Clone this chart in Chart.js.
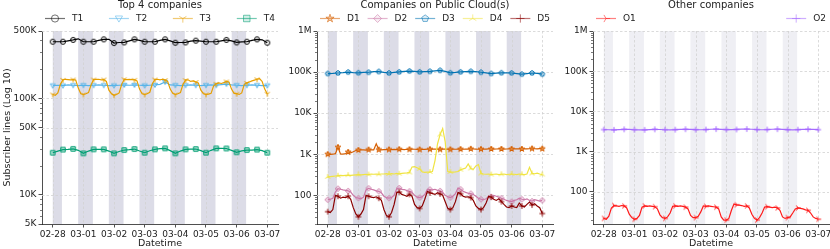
<!DOCTYPE html>
<html>
<head>
<meta charset="utf-8">
<title>Subscriber lines</title>
<script src="https://cdn.jsdelivr.net/npm/chart.js@4.4.1/dist/chart.umd.min.js"></script>
<style>
  html, body { margin: 0; padding: 0; background: #fff; overflow: hidden; }
  body { position: relative; width: 830px; height: 249px; }
  .panel { position: absolute; top: 0; }
</style>
</head>
<body>
<canvas id="top4" class="panel" style="left:0px" width="290" height="249"></canvas>
<canvas id="cloud" class="panel" style="left:280px" width="290" height="249"></canvas>
<canvas id="other" class="panel" style="left:555px" width="290" height="249"></canvas>
<script>
const FONT = '"DejaVu Sans", sans-serif';

// time axis, hours since 02-28 00:00
const hours2 = [0,2,4,6,8,10,12,14,16,18,20,22,24,26,28,30,32,34,36,38,40,42,44,46,48,50,52,54,56,58,60,62,64,66,68,70,72,74,76,78,80,82,84,86,88,90,92,94,96,98,100,102,104,106,108,110,112,114,116,118,120,122,124,126,128,130,132,134,136,138,140,142,144,146,148,150,152,154,156,158,160,162,164,166,168];
const hours4 = [0,4,8,12,16,20,24,28,32,36,40,44,48,52,56,60,64,68,72,76,80,84,88,92,96,100,104,108,112,116,120,124,128,132,136,140,144,148,152,156,160,164,168];

const dayTicks = [0, 1, 2, 3, 4, 5, 6, 7];
const dayLabels = ['02-28', '03-01', '03-02', '03-03', '03-04', '03-05', '03-06', '03-07'];

// night shading, in days
const nightStart = [0, 0.83, 1.83, 2.83, 3.84, 4.84, 5.84];
const nightEnd = [0.3, 1.31, 2.31, 3.31, 4.31, 5.31, 6.31];

const top4Ticks = [5000, 10000, 50000, 100000, 500000];
const top4TickLabels = ['5K', '10K', '50K', '100K', '500K'];
const wideTicks = [100, 1000, 10000, 100000, 1000000];
const wideTickLabels = ['100', '1K', '10K', '100K', '1M'];

// Top 4 companies
const t1 = [387000,387000,387000,395000,404000,415000,387000,387000,387000,400000,410000,410000,375000,380000,381000,395000,410000,400000,387000,387000,387000,400000,410000,395000,378000,380000,381000,392000,397000,392000,387000,387000,387000,395000,404000,395000,381000,385000,387000,400000,410000,405000,378000];
const t2 = [136000,137000,136000,138000,137000,136000,137000,136000,137000,138000,137000,136000,136000,137000,138000,137000,138000,137000,136000,137000,138000,140000,148000,138000,137000,136000,137000,138000,137000,136000,137000,138000,137000,139000,141000,138000,137000,136000,137000,138000,137000,136000,136000];
const t3 = [110000,108000,114000,140000,156000,158000,157000,156000,157000,155000,128000,112000,
  110000,112000,115000,138000,157000,158000,158000,156000,157000,150000,122000,112000,
  108000,110000,114000,140000,158000,157000,158000,157000,156000,152000,125000,112000,
  110000,112000,116000,142000,157000,158000,156000,158000,155000,150000,125000,113000,
  110000,112000,115000,140000,155000,156000,150000,152000,148000,145000,122000,112000,
  110000,111000,113000,135000,142000,145000,143000,146000,150000,148000,125000,113000,
  112000,110000,114000,140000,145000,148000,152000,155000,158000,160000,150000,125000,112000];
const t4 = [27400,28500,29500,29700,30000,29000,27000,28500,29700,29700,29700,28500,27000,28200,29200,29500,29900,28500,27400,28700,29700,30200,30400,28800,27000,28500,29700,29800,29900,28800,27400,29000,30400,30400,30300,29000,27700,28600,29200,29200,29500,28800,27400];

// Companies on Public Cloud(s)
const d1 = [1000,990,1000,1030,1480,1020,1010,1040,1130,1080,1150,1230,
  1260,1270,1280,1260,1290,1280,1270,1800,1290,1280,1300,1290,
  1300,1290,1310,1300,1320,1310,1300,1320,1310,1330,1320,1310,
  1300,1320,1310,1330,1320,1340,1330,1320,1310,1330,1340,1320,
  1310,1330,1320,1340,1330,1320,1340,1330,1350,1340,1330,1320,
  1330,1340,1330,1350,1340,1330,1340,1350,1340,1330,1340,1350,
  1340,1350,1360,1350,1340,1360,1350,1360,1370,1360,1350,1370,1360];
const d2 = [78,80,85,120,145,140,135,132,128,120,100,88,
  85,82,90,135,148,140,135,128,125,115,95,88,
  85,88,100,145,150,140,138,130,125,118,100,90,
  88,92,105,140,138,135,140,132,128,118,100,92,
  88,95,110,150,140,125,118,112,110,105,95,85,
  80,78,82,95,92,100,95,90,85,80,75,72,
  70,75,78,85,80,78,82,75,72,78,75,72,75];
const d3 = [92000,93000,95000,97000,100000,97000,96000,98000,99000,102000,103000,98000,95000,98000,101000,104000,106000,104000,101000,103000,104000,107000,110000,104000,96000,98000,101000,103000,104000,102000,99000,96000,92000,94000,96000,96000,95000,92000,89000,92000,95000,93000,89000];
const d4 = [280,285,290,295,300,305,300,305,310,305,310,315,
  320,315,320,325,320,330,325,330,325,330,330,335,
  330,335,330,340,335,340,345,350,360,490,500,470,
  440,370,360,365,370,380,700,1800,3000,4200,2000,380,
  370,365,370,380,420,440,460,580,450,430,520,560,
  340,330,325,330,320,325,330,320,325,330,320,325,
  330,325,320,330,325,320,330,480,340,335,345,330,320];
const d5 = [40,38,45,100,95,85,90,88,95,80,50,35,
  30,35,45,100,95,90,88,92,85,75,45,32,
  30,38,60,115,120,105,100,95,105,95,60,50,
  48,55,80,125,115,110,105,115,108,100,70,48,
  45,50,70,118,110,95,90,92,88,75,55,48,
  45,50,65,95,90,80,75,82,70,60,52,50,
  55,52,50,65,55,52,60,68,58,62,55,50,36];

// Other companies
const o1 = [22,21,25,40,46,45,44,46,45,40,28,23,
  21,22,26,42,45,44,45,44,43,38,27,23,
  22,24,30,44,45,44,45,44,42,38,26,23,
  23,25,32,45,44,45,44,43,42,38,24,20,
  20,22,35,50,48,47,46,44,45,40,28,22,
  20,23,30,42,43,42,41,42,40,35,24,22,
  23,24,30,38,40,39,38,36,35,30,24,22,21];
const o2 = [3550,3520,3500,3560,3600,3580,3520,3480,3500,3560,3600,3570,3520,3500,3540,3600,3620,3580,3540,3520,3560,3620,3650,3600,3560,3540,3580,3640,3660,3620,3560,3520,3560,3620,3640,3600,3540,3500,3540,3600,3620,3580,3540];

function drawMarker(ctx, shape, x, y, r, color, face) {
  const spokes = { triDown: [90, 210, 330], triUp: [270, 30, 150], triRight: [0, 120, 240], plus: [0, 90, 180, 270] };
  ctx.save();
  ctx.strokeStyle = color;
  ctx.lineWidth = 1;
  ctx.beginPath();
  if (spokes[shape]) {
    spokes[shape].forEach(deg => {
      const t = deg * Math.PI / 180;
      ctx.moveTo(x, y);
      ctx.lineTo(x + r * 1.15 * Math.cos(t), y + r * 1.15 * Math.sin(t));
    });
    ctx.stroke();
    ctx.restore();
    return;
  }
  if (shape === 'circle') {
    ctx.arc(x, y, r, 0, Math.PI * 2);
  } else if (shape === 'square') {
    ctx.rect(x - r * 0.9, y - r * 0.9, r * 1.8, r * 1.8);
  } else if (shape === 'diamond') {
    ctx.moveTo(x, y - r * 1.1); ctx.lineTo(x + r * 1.1, y); ctx.lineTo(x, y + r * 1.1); ctx.lineTo(x - r * 1.1, y);
  } else if (shape === 'triangleDown') {
    ctx.moveTo(x - r, y - r * 0.7); ctx.lineTo(x + r, y - r * 0.7); ctx.lineTo(x, y + r);
  } else if (shape === 'pentagon') {
    for (let k = 0; k < 5; k++) {
      const t = -Math.PI / 2 + k * 2 * Math.PI / 5;
      ctx.lineTo(x + r * Math.cos(t), y + r * Math.sin(t));
    }
  } else if (shape === 'star') {
    for (let k = 0; k < 10; k++) {
      const t = -Math.PI / 2 + k * Math.PI / 5;
      const rr = k % 2 ? r * 0.45 : r * 1.2;
      ctx.lineTo(x + rr * Math.cos(t), y + rr * Math.sin(t));
    }
  }
  ctx.closePath();
  if (face) {
    ctx.fillStyle = face;
    ctx.fill();
  }
  ctx.stroke();
  ctx.restore();
}

function makeMarker(shape, r, color, face) {
  const c = document.createElement('canvas');
  const s = Math.ceil(r * 2.6 + 3);
  c.width = s;
  c.height = s;
  drawMarker(c.getContext('2d'), shape, s / 2, s / 2, r, color, face);
  return c;
}

// night bands and dashed grid
const backdrop = {
  id: 'backdrop',
  beforeDatasetsDraw(chart, args, opts) {
    const { ctx, chartArea: a, scales: { x, y } } = chart;
    ctx.save();
    ctx.beginPath();
    ctx.rect(a.left, a.top, a.width, a.height);
    ctx.clip();
    ctx.fillStyle = opts.bandColor;
    nightStart.forEach((s, i) => {
      const x0 = x.getPixelForValue(s);
      const x1 = x.getPixelForValue(nightEnd[i]);
      ctx.fillRect(x0, a.top, x1 - x0, a.height);
    });
    ctx.strokeStyle = '#d2d2d2';
    ctx.lineWidth = 0.8;
    ctx.setLineDash([2.5, 2]);
    dayTicks.forEach(d => {
      const px = Math.round(x.getPixelForValue(d)) + 0.5;
      ctx.beginPath(); ctx.moveTo(px, a.top); ctx.lineTo(px, a.bottom); ctx.stroke();
    });
    opts.yTicks.forEach(v => {
      const py = Math.round(y.getPixelForValue(v)) + 0.5;
      ctx.beginPath(); ctx.moveTo(a.left, py); ctx.lineTo(a.right, py); ctx.stroke();
    });
    ctx.restore();
  }
};

// log minor ticks on the left spine
const minorTicks = {
  id: 'minorTicks',
  afterDraw(chart) {
    const { ctx, chartArea: a, scales: { y } } = chart;
    ctx.save();
    ctx.strokeStyle = '#222';
    ctx.lineWidth = 0.6;
    for (let k = Math.floor(Math.log10(y.min)); k <= Math.ceil(Math.log10(y.max)); k++) {
      for (let m = 2; m <= 9; m++) {
        const v = m * Math.pow(10, k);
        if (v < y.min || v > y.max || y.ticks.some(t => t.value === v)) continue;
        const py = Math.round(y.getPixelForValue(v)) + 0.5;
        ctx.beginPath(); ctx.moveTo(a.left - 2, py); ctx.lineTo(a.left, py); ctx.stroke();
      }
    }
    ctx.restore();
  }
};

// title + expanded legend row
const header = {
  id: 'header',
  afterDraw(chart, args, opts) {
    const { ctx, chartArea: a } = chart;
    ctx.save();
    ctx.fillStyle = '#222';
    ctx.textBaseline = 'middle';
    ctx.textAlign = 'center';
    ctx.font = '10px ' + FONT;
    ctx.fillText(opts.title, (a.left + a.right) / 2, 5.5);
    ctx.font = '9px ' + FONT;
    ctx.textAlign = 'left';
    const sets = chart.data.datasets;
    const handle = 20, pad = 7;
    const widths = sets.map(d => handle + pad + ctx.measureText(d.label).width);
    const left = a.left + 3, right = a.right - 3;
    const total = widths.reduce((s, w) => s + w, 0);
    const gap = sets.length > 1 ? (right - left - total) / (sets.length - 1) : 0;
    const cy = 18.5;
    let cx = left;
    sets.forEach((d, i) => {
      ctx.globalAlpha = 0.55;
      ctx.strokeStyle = d.borderColor;
      ctx.lineWidth = 1.2;
      ctx.beginPath(); ctx.moveTo(cx, cy); ctx.lineTo(cx + handle, cy); ctx.stroke();
      drawMarker(ctx, d.marker, cx + handle / 2, cy, 3.6, d.borderColor, d.face);
      ctx.globalAlpha = 1;
      ctx.fillStyle = '#222';
      ctx.fillText(d.label, cx + handle + pad, cy);
      cx += widths[i] + gap;
    });
    ctx.restore();
  }
};

function buildPanel(id, cfg) {
  const tickFont = { family: FONT, size: 9 };
  const axisBits = {
    grid: { drawOnChartArea: false, tickLength: 3.5, tickWidth: 0.8, tickColor: '#222' },
    border: { display: true, color: '#222', width: 0.8 }
  };
  return new Chart(document.getElementById(id), {
    type: 'line',
    data: {
      datasets: cfg.series.map((s, i) => ({
        label: s.label,
        data: s.hours.map((h, j) => ({ x: h / 24, y: s.values[j] })),
        borderColor: s.color,
        backgroundColor: s.color,
        borderWidth: 1.2,
        pointStyle: makeMarker(s.marker, 2.5, s.color, s.face),
        pointRadius: c => (c.dataIndex % s.every === 0 ? 2.5 : 0),
        pointHoverRadius: 0,
        tension: 0,
        fill: false,
        order: -i,
        marker: s.marker,
        face: s.face
      }))
    },
    options: {
      responsive: false,
      devicePixelRatio: 1,
      animation: false,
      events: [],
      layout: { padding: { left: 0, right: cfg.padRight, top: 31, bottom: 0 } },
      plugins: {
        legend: { display: false },
        title: { display: false },
        tooltip: { enabled: false },
        backdrop: { bandColor: cfg.bandColor, yTicks: cfg.yTicks },
        header: { title: cfg.title }
      },
      scales: {
        x: {
          type: 'linear',
          min: -0.35,
          max: 7.35,
          afterBuildTicks: s => { s.ticks = dayTicks.map(v => ({ value: v })); },
          afterFit: s => { s.height = 25; },
          ticks: {
            autoSkip: false, maxRotation: 0, padding: 2, color: '#222', font: tickFont,
            callback: v => dayLabels[dayTicks.indexOf(v)]
          },
          ...axisBits,
          title: { display: true, text: 'Datetime', color: '#222', font: { family: FONT, size: 9.5 }, padding: 0 }
        },
        y: {
          type: 'logarithmic',
          min: cfg.yMin,
          max: cfg.yMax,
          afterBuildTicks: s => { s.ticks = cfg.yTicks.map(v => ({ value: v })); },
          afterFit: s => { s.width = cfg.axisWidth; },
          ticks: {
            autoSkip: false, padding: 2, color: '#222', font: tickFont,
            callback: v => cfg.yLabels[cfg.yTicks.indexOf(v)]
          },
          ...axisBits,
          title: {
            display: !!cfg.yTitle, text: cfg.yTitle || '', color: '#222',
            font: { family: FONT, size: 9.5 }, padding: { top: 2, bottom: 0 }
          }
        }
      }
    },
    plugins: [backdrop, minorTicks, header]
  });
}

buildPanel('top4', {
  title: 'Top 4 companies',
  yTitle: 'Subscriber lines (Log 10)',
  axisWidth: 42, padRight: 12,
  yMin: 5000, yMax: 500000, yTicks: top4Ticks, yLabels: top4TickLabels,
  bandColor: '#dcdce7',
  series: [
    { label: 'T1', hours: hours4, values: t1, color: '#000000', marker: 'circle', every: 2 },
    { label: 'T2', hours: hours4, values: t2, color: '#56b4e9', marker: 'triangleDown', every: 2 },
    { label: 'T3', hours: hours2, values: t3, color: '#e69f00', marker: 'triDown', every: 4 },
    { label: 'T4', hours: hours4, values: t4, color: '#009e73', marker: 'square', every: 2, face: 'rgba(0,158,115,0.3)' }
  ]
});

buildPanel('cloud', {
  title: 'Companies on Public Cloud(s)',
  axisWidth: 37, padRight: 17,
  yMin: 20, yMax: 1000000, yTicks: wideTicks, yLabels: wideTickLabels,
  bandColor: '#dcdce7',
  series: [
    { label: 'D1', hours: hours2, values: d1, color: '#d55e00', marker: 'star', every: 4, face: 'rgba(230,140,60,0.8)' },
    { label: 'D2', hours: hours2, values: d2, color: '#cc79a7', marker: 'diamond', every: 4, face: 'rgba(204,121,167,0.2)' },
    { label: 'D3', hours: hours4, values: d3, color: '#0072b2', marker: 'pentagon', every: 2, face: 'rgba(0,114,178,0.2)' },
    { label: 'D4', hours: hours2, values: d4, color: '#f0e442', marker: 'triUp', every: 4 },
    { label: 'D5', hours: hours2, values: d5, color: '#8b0000', marker: 'plus', every: 4 }
  ]
});

buildPanel('other', {
  title: 'Other companies',
  axisWidth: 38, padRight: 16,
  yMin: 16, yMax: 1000000, yTicks: wideTicks, yLabels: wideTickLabels,
  bandColor: '#efeff4',
  series: [
    { label: 'O1', hours: hours2, values: o1, color: '#ff1a1a', marker: 'triRight', every: 4 },
    { label: 'O2', hours: hours4, values: o2, color: '#a66bff', marker: 'plus', every: 2 }
  ]
});
</script>
</body>
</html>
